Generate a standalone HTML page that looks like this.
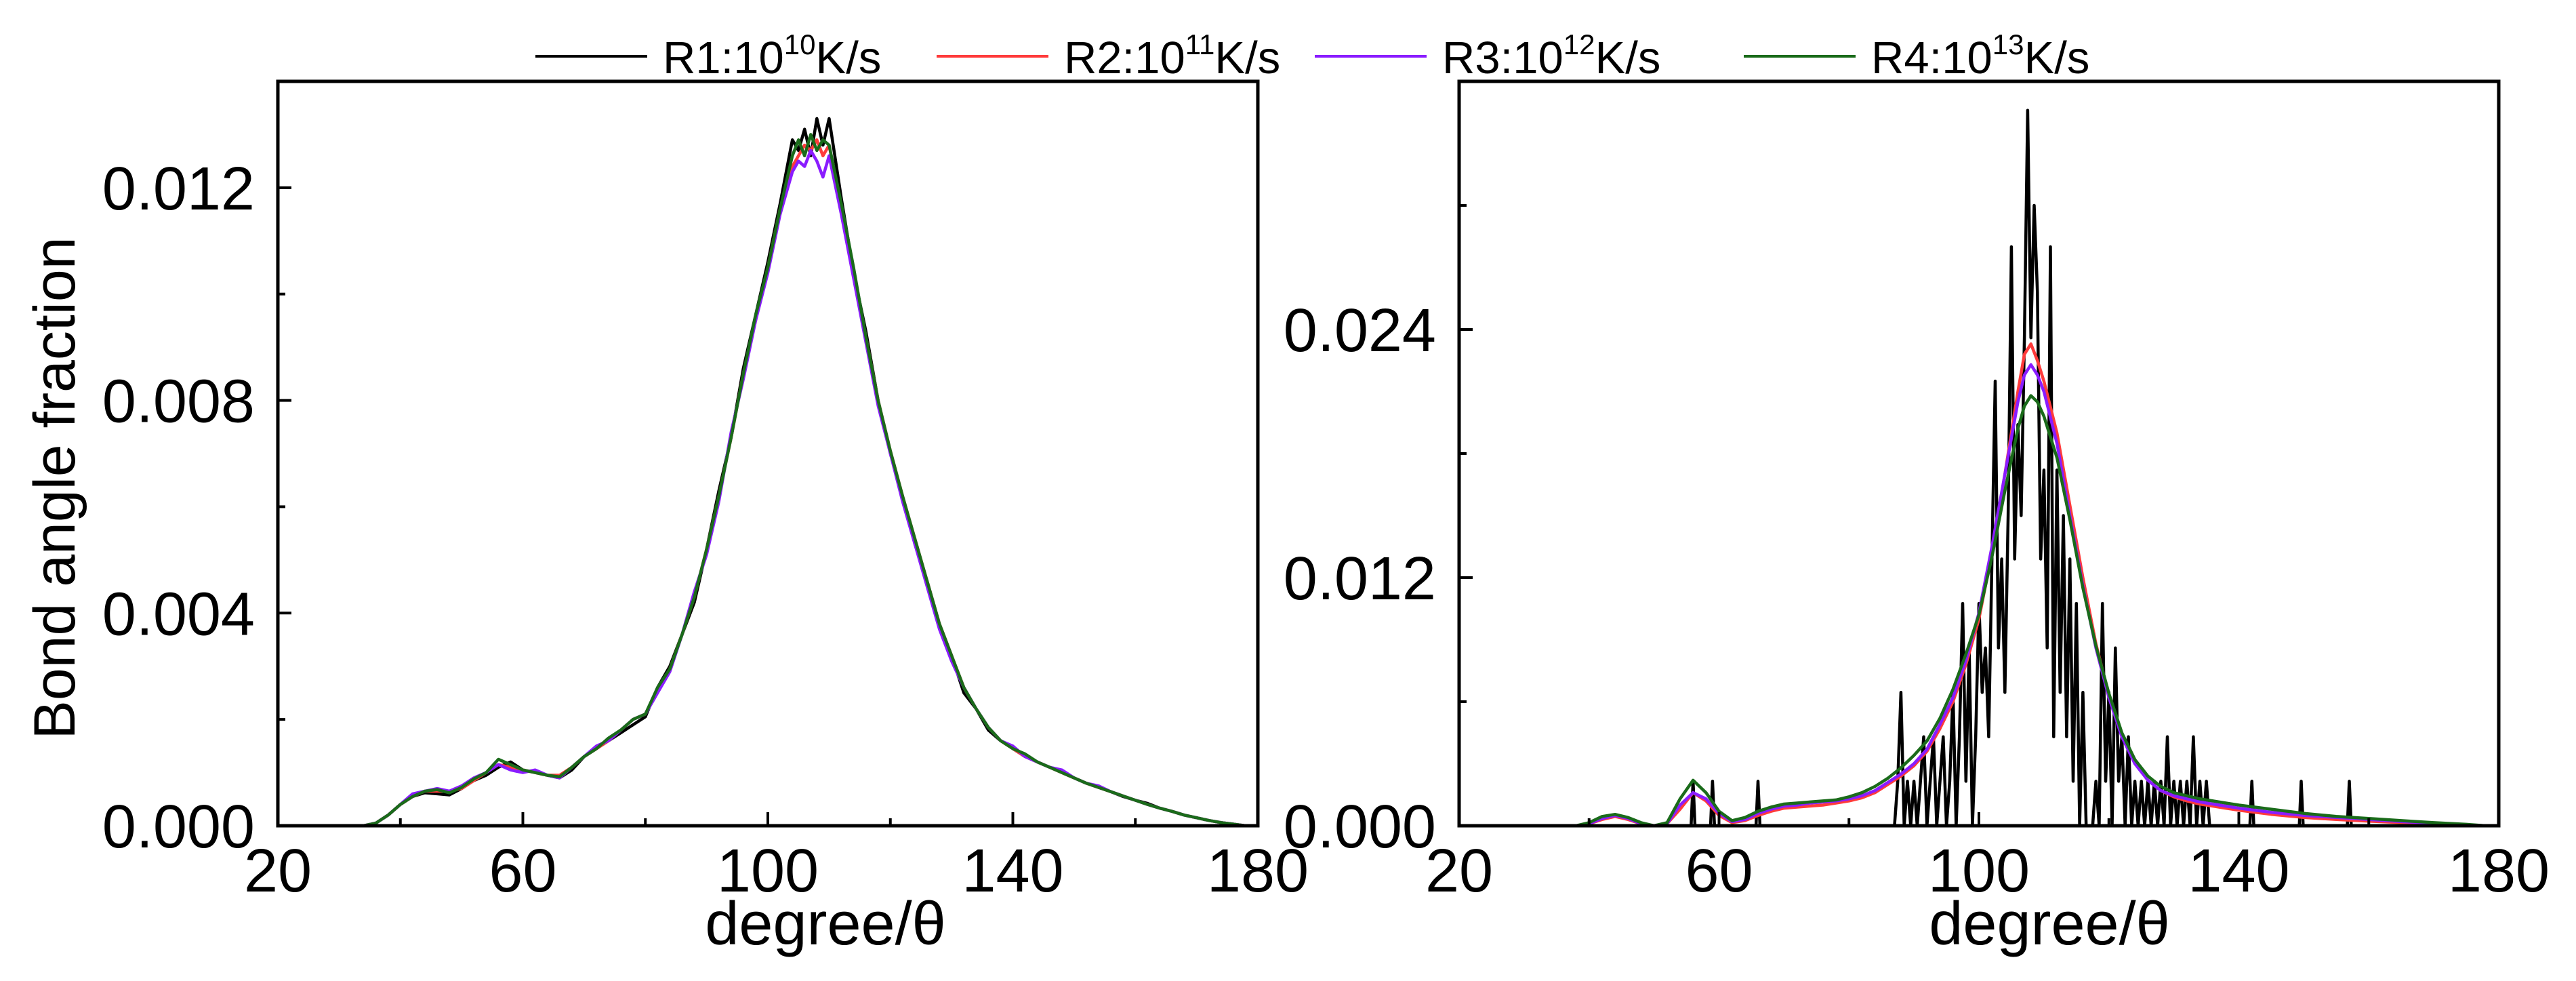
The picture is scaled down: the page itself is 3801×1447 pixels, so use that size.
<!DOCTYPE html>
<html><head><meta charset="utf-8">
<style>
html,body{margin:0;padding:0;background:#fff;}
svg{display:block;font-family:"Liberation Sans",Arial,sans-serif;}
</style></head>
<body>
<svg id="chart" width="3801" height="1447" viewBox="0 0 3801 1447" xmlns="http://www.w3.org/2000/svg">
<g id="legend"></g>
<g id="left"></g>
<g id="right"></g>
<text transform="translate(110,720) rotate(-90)" text-anchor="middle" font-size="86">Bond angle fraction</text>
</svg>
<script>
// ---------- data (values in units of 0.001) ----------
const seriesNames = ["R1","R2","R3","R4"];
const seriesExp = ["10","11","12","13"];
const seriesColors = ["#000000","#ff3b3b","#8a1cff","#1a6b1a"];

const leftX = [34,36,38,40,42,44,46,48,50,52,54,56,58,60,62,64,66,68,70,72,74,76,78,80,82,84,86,88,90,92,94,96,98,100,102,104,105,106,107,108,109,110,112,114,116,118,120,122,124,126,128,130,132,134,136,138,140,142,144,146,148,150,152,154,156,158,160,162,164,166,168,170,172,174,176,178];
const leftR1 = [0,0.05,0.2,0.4,0.55,0.62,0.6,0.58,0.7,0.85,0.95,1.1,1.2,1.05,1.0,0.95,0.9,1.05,1.3,1.45,1.6,1.75,1.9,2.05,2.6,3.0,3.6,4.2,5.2,6.3,7.3,8.6,9.6,10.6,11.7,12.9,12.7,13.1,12.6,13.3,12.8,13.3,11.8,10.4,9.3,8.0,7.0,6.2,5.3,4.6,3.8,3.2,2.5,2.2,1.8,1.6,1.45,1.3,1.2,1.1,1.0,0.9,0.8,0.72,0.64,0.55,0.48,0.42,0.33,0.27,0.2,0.15,0.1,0.06,0.03,0];
const leftR2 = [0,0.05,0.2,0.4,0.55,0.65,0.65,0.65,0.7,0.85,1.0,1.15,1.1,1.05,1.0,0.95,0.95,1.1,1.3,1.45,1.6,1.8,2.0,2.1,2.55,2.95,3.6,4.3,5.2,6.2,7.3,8.5,9.5,10.5,11.6,12.4,12.6,12.8,12.7,12.9,12.6,12.8,11.6,10.4,9.2,8.0,7.05,6.2,5.4,4.6,3.8,3.2,2.6,2.2,1.85,1.6,1.45,1.3,1.2,1.1,1.0,0.9,0.8,0.72,0.64,0.56,0.48,0.4,0.33,0.27,0.2,0.15,0.1,0.06,0.03,0];
const leftR3 = [0,0.05,0.2,0.4,0.6,0.65,0.7,0.65,0.75,0.9,1.0,1.15,1.05,1.0,1.05,0.95,0.9,1.1,1.3,1.5,1.6,1.8,2.0,2.1,2.5,2.9,3.6,4.4,5.1,6.1,7.4,8.4,9.5,10.4,11.5,12.3,12.5,12.4,12.7,12.5,12.2,12.6,11.5,10.3,9.1,7.9,7.0,6.1,5.3,4.5,3.7,3.1,2.6,2.2,1.85,1.6,1.5,1.3,1.2,1.1,1.05,0.9,0.8,0.75,0.64,0.56,0.48,0.4,0.33,0.27,0.2,0.15,0.1,0.06,0.03,0];
const leftR4 = [0,0.05,0.2,0.4,0.55,0.65,0.68,0.62,0.72,0.88,1.0,1.25,1.15,1.05,1.0,0.95,0.92,1.1,1.3,1.45,1.65,1.8,2.0,2.1,2.6,2.95,3.6,4.3,5.2,6.2,7.3,8.5,9.6,10.5,11.6,12.6,12.9,12.6,13.0,12.7,12.9,12.8,11.7,10.5,9.2,8.0,7.05,6.2,5.4,4.6,3.8,3.2,2.6,2.2,1.85,1.6,1.45,1.35,1.2,1.1,1.0,0.9,0.8,0.72,0.64,0.56,0.48,0.4,0.33,0.27,0.2,0.15,0.1,0.06,0.03,0];

const rightX = [38,40,42,44,46,48,50,52,54,56,58,60,62,64,66,68,70,72,74,76,78,80,82,84,86,88,90,92,94,96,98,100,102,104,106,107,108,109,110,112,114,116,118,120,122,124,126,128,130,132,134,136,138,140,145,150,155,160,165,170,175,178];
const rightR2 = [0,0.1,0.3,0.45,0.3,0.1,0,0.1,0.8,1.6,1.2,0.5,0.15,0.25,0.5,0.7,0.85,0.9,0.95,1.0,1.1,1.2,1.35,1.6,2.0,2.4,2.9,3.6,4.7,6.0,7.8,10.0,13.2,17.0,21.0,22.8,23.3,22.5,21.5,19.0,15.5,12.0,8.8,6.3,4.4,3.1,2.2,1.7,1.4,1.2,1.05,0.95,0.85,0.75,0.55,0.4,0.3,0.22,0.15,0.1,0.04,0];
const rightR3 = [0,0.1,0.35,0.5,0.35,0.1,0,0.1,1.0,1.6,1.3,0.6,0.2,0.3,0.6,0.8,0.95,1.0,1.1,1.15,1.2,1.3,1.45,1.7,2.1,2.5,3.0,3.7,4.9,6.2,8.0,10.3,13.5,17.0,20.5,21.8,22.3,21.8,21.0,18.5,15.0,11.6,8.6,6.2,4.3,3.0,2.2,1.7,1.45,1.3,1.15,1.05,0.95,0.85,0.65,0.5,0.4,0.3,0.2,0.12,0.05,0];
const rightR4 = [0,0.15,0.45,0.55,0.4,0.15,0,0.15,1.3,2.2,1.6,0.7,0.25,0.4,0.7,0.9,1.05,1.1,1.15,1.2,1.25,1.4,1.6,1.9,2.3,2.8,3.4,4.1,5.2,6.6,8.3,10.2,13.0,16.2,19.2,20.3,20.8,20.5,19.8,17.8,14.8,11.5,8.7,6.4,4.5,3.2,2.4,1.9,1.6,1.45,1.3,1.2,1.1,1.0,0.8,0.6,0.45,0.35,0.25,0.15,0.07,0];
const rightR1X = [20,55.7,56,56.3,58.7,59,59.3,65.7,66,66.3,86,86.5,87,87.5,88,88.5,89,89.5,90,90.5,91,91.5,92,92.5,93,93.5,94,94.5,95,95.5,96,96.5,97,97.5,98,98.5,99,99.5,100,100.5,101,101.5,102,102.5,103,103.5,104,104.5,105,105.5,106,106.5,107,107.5,108,108.5,109,109.5,110,110.5,111,111.5,112,112.5,113,113.5,114,114.5,115,115.5,116,116.5,117,117.5,118,118.5,119,119.5,120,120.5,121,121.5,122,122.5,123,123.5,124,124.5,125,125.5,126,126.5,127,127.5,128,128.5,129,129.5,130,130.5,131,131.5,132,132.5,133,133.5,134,134.5,135,135.5,136,141.7,142,142.3,149.3,149.6,149.9,156.7,157,157.3,180];
const rightR1 = [0,0,2.15,0,0,2.15,0,0,2.15,0,0,0,0,2.15,6.45,0,2.15,0,2.15,0,2.15,4.3,0,2.15,4.3,0,2.15,4.3,0,2.15,6.45,0,4.3,10.75,2.15,8.6,0,4.3,10.75,6.45,8.6,4.3,12.9,21.5,8.6,12.9,6.45,15,28,12.9,19.4,15,23.6,34.6,23.6,30,25.8,12.9,17.2,8.6,28,4.3,17.2,6.45,15,4.3,12.9,2.15,10.75,0,6.45,0,0,0,2.15,0,10.75,2.15,6.45,0,8.6,2.15,4.3,0,4.3,0,2.15,0,2.15,0,2.15,0,2.15,0,2.15,0,4.3,0,2.15,0,2.15,0,2.15,0,4.3,0,2.15,0,2.15,0,0,0,2.15,0,0,2.15,0,0,2.15,0,0];

const leftTicks = ["0.000","0.004","0.008","0.012"];
const leftTickVals = [0,4,8,12];
const rightTicks = ["0.000","0.012","0.024"];
const rightTickVals = [0,12,24];
const xTickVals = [20,60,100,140,180];

// ---------- drawing ----------
const NS = "http://www.w3.org/2000/svg";
function mk(tag, attrs, parent){
  const e = document.createElementNS(NS, tag);
  for (const k in attrs) e.setAttribute(k, attrs[k]);
  parent.appendChild(e);
  return e;
}

function drawPanel(g, box, ymax, majorVals, majorLabels, minorStep, series, prefix){
  const sx = v => box.x0 + (v - 20) / 160 * (box.x1 - box.x0);
  const sy = v => box.y1 - v / ymax * (box.y1 - box.y0);
  series.forEach((s, i) => {
    let d = "";
    s.ys.forEach((y, j) => { d += (j ? "L" : "M") + sx(s.xs[j]).toFixed(1) + "," + sy(y).toFixed(1); });
    const p = mk("path", {d: d, fill: "none", stroke: s.color, "stroke-width": 4.5, "stroke-linejoin": "round"}, g);
    
    
  });
  const fr = mk("rect", {x: box.x0, y: box.y0, width: box.x1 - box.x0, height: box.y1 - box.y0, fill: "none", stroke: "#000", "stroke-width": 5}, g);
  
  
  for (let v = 20; v <= 180; v += 20) {
    const major = xTickVals.includes(v);
    const t = mk("line", {x1: sx(v), x2: sx(v), y1: box.y1, y2: box.y1 - (major ? 20 : 11), stroke: "#000", "stroke-width": 4}, g);
    
    
  }
  xTickVals.forEach(v => {
    const t = mk("text", {x: sx(v), y: box.y1 + 97, "text-anchor": "middle", "font-size": 90}, g);
    t.textContent = v;
    
    
  });
  for (let v = 0; v <= ymax + 1e-9; v += minorStep) {
    const major = majorVals.some(m => Math.abs(m - v) < 1e-6);
    const t = mk("line", {x1: box.x0, x2: box.x0 + (major ? 20 : 11), y1: sy(v), y2: sy(v), stroke: "#000", "stroke-width": 4}, g);
    
    
  }
  majorVals.forEach((v, i) => {
    const t = mk("text", {x: box.x0 - 34, y: sy(v) + 32, "text-anchor": "end", "font-size": 90}, g);
    t.textContent = majorLabels[i];
    
    
  });
  const xt = mk("text", {x: box.tx, y: 1393, "text-anchor": "middle", "font-size": 90}, g);
  xt.textContent = "degree/\u03b8";
  
  
}

const leftG = document.getElementById("left");
drawPanel(leftG, {x0: 410, x1: 1856, y0: 120, y1: 1218, tx: 1218}, 14, leftTickVals, leftTicks, 2,
  [leftR1, leftR2, leftR3, leftR4].map((ys, i) => ({xs: leftX, ys: ys, color: seriesColors[i], name: seriesNames[i]})), "left");

const rightG = document.getElementById("right");
drawPanel(rightG, {x0: 2153, x1: 3687, y0: 120, y1: 1218, tx: 3024}, 36, rightTickVals, rightTicks, 6,
  [{xs: rightR1X, ys: rightR1, color: seriesColors[0], name: "R1"},
   {xs: rightX, ys: rightR2, color: seriesColors[1], name: "R2"},
   {xs: rightX, ys: rightR3, color: seriesColors[2], name: "R3"},
   {xs: rightX, ys: rightR4, color: seriesColors[3], name: "R4"}], "right");

const legendG = document.getElementById("legend");
const legLineX = [790, 1382, 1940, 2573];
seriesNames.forEach((n, i) => {
  const item = mk("g", {}, legendG);
  
  
  mk("line", {x1: legLineX[i], x2: legLineX[i] + 165, y1: 83, y2: 83, stroke: seriesColors[i], "stroke-width": 4}, item);
  const t = mk("text", {x: legLineX[i] + 188, y: 108, "font-size": 67}, item);
  const a = mk("tspan", {}, t); a.textContent = n + ":10";
  const b = mk("tspan", {dy: -28, "font-size": 42}, t); b.textContent = seriesExp[i];
  const c = mk("tspan", {dy: 28}, t); c.textContent = "K/s";
});
</script>
</body></html>
